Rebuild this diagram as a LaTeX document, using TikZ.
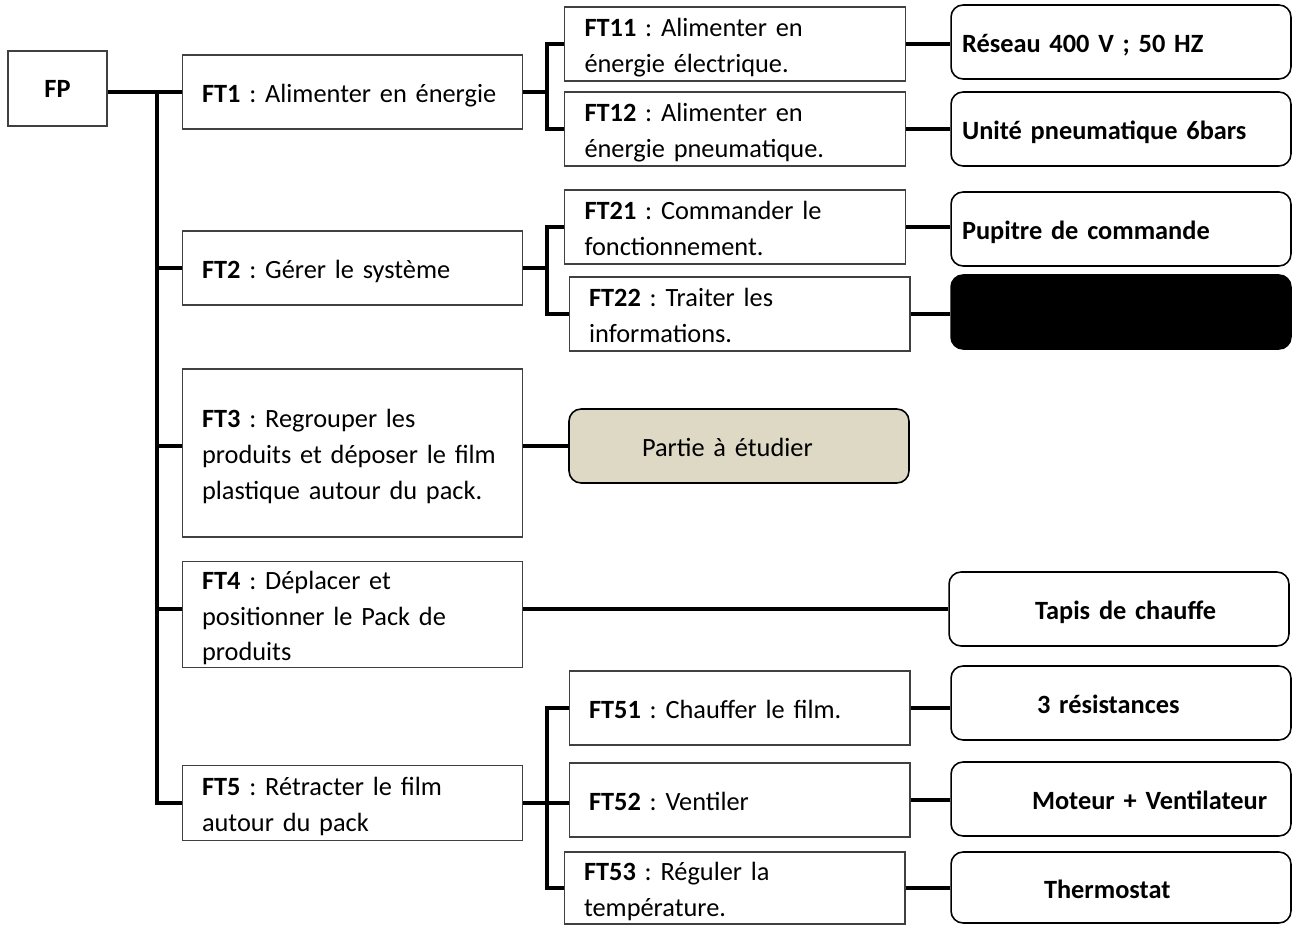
\documentclass[tikz,border=0pt]{standalone}
\usepackage{xcolor}
\usepackage{fontspec}
\setmainfont{Carlito}
\usepackage{tikz}
\usetikzlibrary{positioning,calc}

\definecolor{partie}{HTML}{DDD9C4}
\frenchspacing

\begin{document}
\begin{tikzpicture}[x=0.02cm, y=-0.02cm,
    fbox/.style={draw=black!75, line width=0.6pt, inner xsep=0.4cm, inner ysep=0pt,
        text width=6.02cm, minimum width=6.82cm, minimum height=1.48cm, align=left,
        font=\fontsize{15}{20.4}\selectfont,
        execute at begin node={\rule{0pt}{16pt}}, execute at end node={\rule[-4pt]{0pt}{0pt}}},
    rbox/.style={draw, line width=0.9pt, rounded corners=0.24cm, inner xsep=0.22cm, inner ysep=0pt,
        text width=6.36cm, minimum width=6.8cm, minimum height=1.48cm, align=left,
        font=\fontsize{15}{20.4}\selectfont\bfseries,
        execute at begin node={\rule{0pt}{16pt}}, execute at end node={\rule[-4pt]{0pt}{0pt}}},
    conn/.style={line width=1.9pt}]
    \useasboundingbox (0,0) rectangle (1292,925);

    % fonction principale
    \node[draw=black!75, line width=0.6pt, minimum width=1.98cm, minimum height=1.5cm,
        font=\fontsize{15}{20.4}\selectfont\bfseries] (fp) at (57.5,88.5) {FP};

    % fonctions techniques
    \node[fbox] (ft1) at (352.5,92) {\textbf{FT1} : Alimenter en énergie};
    \node[fbox] (ft2) at (352.5,268) {\textbf{FT2} : Gérer le système};
    \node[fbox, minimum height=3.36cm] (ft3) at (352.5,453) {\textbf{FT3} : Regrouper les\\produits et déposer le film\\plastique autour du pack.};
    \node[fbox, minimum height=2.1cm] (ft4) at (352.5,614.5) {\textbf{FT4} : Déplacer et\\positionner le Pack de\\produits};
    \node[fbox, minimum height=1.5cm] (ft5) at (352.5,803) {\textbf{FT5} : Rétracter le film\\autour du pack};

    \node[fbox] (ft11) at (735,44) {\textbf{FT11} : Alimenter en\\énergie électrique.};
    \node[fbox] (ft12) at (735,129) {\textbf{FT12} : Alimenter en\\énergie pneumatique.};
    \node[fbox] (ft21) at (735,227) {\textbf{FT21} : Commander le\\fonctionnement.};
    \node[fbox] (ft22) at (739.5,314) {\textbf{FT22} : Traiter les\\informations.};
    \node[fbox] (ft51) at (739.5,708) {\textbf{FT51} : Chauffer le film.};
    \node[fbox] (ft52) at (739.5,800) {\textbf{FT52} : Ventiler};
    \node[fbox, minimum height=1.44cm] (ft53) at (734.5,888) {\textbf{FT53} : Réguler la\\température.};

    % solutions
    \node[rbox] (res1) at (1121,42) {Réseau 400 V ; 50 HZ};
    \node[rbox] (res2) at (1121,129) {Unité pneumatique 6bars};
    \node[rbox] (res3) at (1121,229) {Pupitre de commande};
    \node[rbox, fill=black] (res4) at (1121,312) {};
    \node[rbox, fill=partie, font=\fontsize{15}{20.4}\selectfont] (part) at (739,446) {\hspace*{1.24cm}Partie à étudier};
    \node[rbox] (tapis) at (1119,609) {\hspace*{1.5cm}Tapis de chauffe};
    \node[rbox] (res5) at (1121,703) {\hspace*{1.5cm}3 résistances};
    \node[rbox] (res6) at (1121,799) {\hspace*{1.4cm}Moteur + Ventilateur};
    \node[rbox, minimum height=1.42cm] (res7) at (1121,887.5) {\hspace*{1.64cm}Thermostat};

    % liaisons
    \coordinate (tk) at (157,0);
    \coordinate (br) at (547,0);
    \draw[conn] (fp.east |- ft1) -- (ft1.west);
    \draw[conn] (ft1.west) -- (tk |- ft1) -- (tk |- ft5) -- (ft5.west);
    \draw[conn] (tk |- ft2) -- (ft2.west);
    \draw[conn] (tk |- part) -- (ft3.west |- part);
    \draw[conn] (tk |- tapis) -- (ft4.west |- tapis);

    \draw[conn] (ft1.east) -- (br |- ft1);
    \draw[conn] (ft11.west) -- (br |- ft11) -- (br |- ft12) -- (ft12.west);
    \draw[conn] (ft2.east) -- (br |- ft2);
    \draw[conn] (ft21.west) -- (br |- ft21) -- (br |- ft22) -- (ft22.west);
    \draw[conn] (ft3.east |- part) -- (part.west);
    \draw[conn] (ft4.east |- tapis) -- (tapis.west);
    \draw[conn] (ft5.east) -- (ft5.east -| ft52.west);
    \draw[conn] (ft51.west) -- (br |- ft51) -- (br |- ft53) -- (ft53.west);

    \draw[conn] (ft11.east) -- (ft11.east -| res1.west);
    \draw[conn] (ft12.east) -- (ft12.east -| res2.west);
    \draw[conn] (ft21.east) -- (ft21.east -| res3.west);
    \draw[conn] (ft22.east) -- (ft22.east -| res4.west);
    \draw[conn] (ft51.east) -- (ft51.east -| res5.west);
    \draw[conn] (ft52.east) -- (ft52.east -| res6.west);
    \draw[conn] (ft53.east) -- (ft53.east -| res7.west);

\end{tikzpicture}
\end{document}
